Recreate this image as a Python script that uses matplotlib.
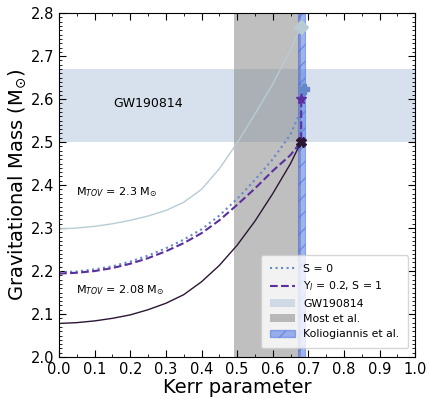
import numpy as np
import matplotlib
matplotlib.use("Agg")
import matplotlib.pyplot as plt
from matplotlib.ticker import MultipleLocator
from matplotlib.patches import Patch

# curve M_TOV = 2.3
a_hi = [0.0, 0.05, 0.1, 0.15, 0.2, 0.25, 0.3, 0.35, 0.4, 0.45, 0.5, 0.55, 0.6, 0.65, 0.68]
m_hi = [2.298, 2.300, 2.304, 2.310, 2.318, 2.328, 2.341, 2.360, 2.390, 2.438, 2.498, 2.565, 2.635, 2.715, 2.768]

# curve M_TOV = 2.08
a_lo = [0.0, 0.05, 0.1, 0.15, 0.2, 0.25, 0.3, 0.35, 0.4, 0.45, 0.5, 0.55, 0.6, 0.65, 0.68]
m_lo = [2.078, 2.080, 2.084, 2.090, 2.098, 2.110, 2.125, 2.145, 2.175, 2.213, 2.260, 2.316, 2.380, 2.450, 2.501]

# S = 0
a_s0 = [0.0, 0.05, 0.1, 0.15, 0.2, 0.25, 0.3, 0.35, 0.4, 0.45, 0.5, 0.55, 0.6, 0.65, 0.675, 0.689]
m_s0 = [2.197, 2.199, 2.204, 2.211, 2.222, 2.236, 2.253, 2.273, 2.297, 2.329, 2.368, 2.412, 2.460, 2.518, 2.565, 2.623]

# Y_l = 0.2, S = 1
a_s1 = [0.0, 0.05, 0.1, 0.15, 0.2, 0.25, 0.3, 0.35, 0.4, 0.45, 0.5, 0.55, 0.6, 0.65, 0.68, 0.68]
m_s1 = [2.194, 2.196, 2.200, 2.207, 2.217, 2.230, 2.246, 2.265, 2.288, 2.318, 2.354, 2.392, 2.433, 2.470, 2.501, 2.600]

gw_band = [2.50, 2.67]
most_band = [0.49, 0.68]
kol_band = [0.67, 0.69]

c_hi = "#b8ccd6"
c_lo = "#2b1634"
c_s0 = "#6688c8"
c_s1 = "#5a2fa0"

fig = plt.figure(figsize=(4.28, 3.98), dpi=100)
ax = fig.add_axes([0.138, 0.103, 0.832, 0.864])

ax.axhspan(gw_band[0], gw_band[1], color="lightsteelblue", alpha=0.5, lw=0, zorder=0)
ax.axvspan(most_band[0], most_band[1], color="grey", alpha=0.5, lw=0, zorder=0)
ax.axvspan(kol_band[0], kol_band[1], facecolor="royalblue", edgecolor="royalblue",
           alpha=0.5, hatch="//", lw=0.8, zorder=1)

ax.plot(a_hi, m_hi, color=c_hi, lw=1, zorder=2)
ax.plot(a_lo, m_lo, color=c_lo, lw=1, zorder=2)
ax.plot(a_s0, m_s0, color=c_s0, lw=1.5, ls=":", zorder=2)
ax.plot(a_s1, m_s1, color=c_s1, lw=1.5, ls="--", zorder=2)

ax.plot(a_hi[-1], m_hi[-1], marker="D", color=c_hi, ms=7, zorder=3)
ax.plot(a_s0[-1], m_s0[-1], marker="P", color=c_s0, ms=7, zorder=3)
ax.plot(a_s1[-1], m_s1[-1], marker="*", color=c_s1, ms=8, zorder=3)
ax.plot(a_lo[-1], m_lo[-1], marker="X", color=c_lo, ms=7, zorder=3)

ax.text(0.25, 2.59, "GW190814", fontsize=9, ha="center", va="center")
ax.text(0.048, 2.384, r"M$_{TOV}$ = 2.3 M$_{\odot}$", fontsize=8, va="center")
ax.text(0.048, 2.156, r"M$_{TOV}$ = 2.08 M$_{\odot}$", fontsize=8, va="center")

handles = [
    plt.Line2D([], [], color=c_s0, ls=":", lw=1.5),
    plt.Line2D([], [], color=c_s1, ls="--", lw=1.5),
    Patch(facecolor="lightsteelblue", alpha=0.5),
    Patch(facecolor="grey", alpha=0.5),
    Patch(facecolor="royalblue", edgecolor="royalblue", alpha=0.5, hatch="//"),
]
labels = ["S = 0", r"Y$_l$ = 0.2, S = 1", "GW190814", "Most et al.", "Koliogiannis et al."]
ax.legend(handles, labels, loc="lower right", fontsize=7.8, framealpha=0.8,
          borderpad=0.8, handlelength=2.3, bbox_to_anchor=(0.995, 0.01))

ax.set_xlim(0, 1)
ax.set_ylim(2.0, 2.8)
ax.xaxis.set_major_locator(MultipleLocator(0.1))
ax.xaxis.set_minor_locator(MultipleLocator(0.05))
ax.yaxis.set_major_locator(MultipleLocator(0.1))
ax.yaxis.set_minor_locator(MultipleLocator(0.01))
ax.tick_params(which="both", direction="in", top=True, right=True, labelsize=10.5)
ax.tick_params(which="major", length=5)
ax.tick_params(which="minor", length=2.5)

ax.set_xlabel("Kerr parameter", fontsize=14, labelpad=1)
ax.set_ylabel(r"Gravitational Mass (M$_{\odot}$)", fontsize=14, labelpad=2)

plt.savefig("out.png", dpi=100)
